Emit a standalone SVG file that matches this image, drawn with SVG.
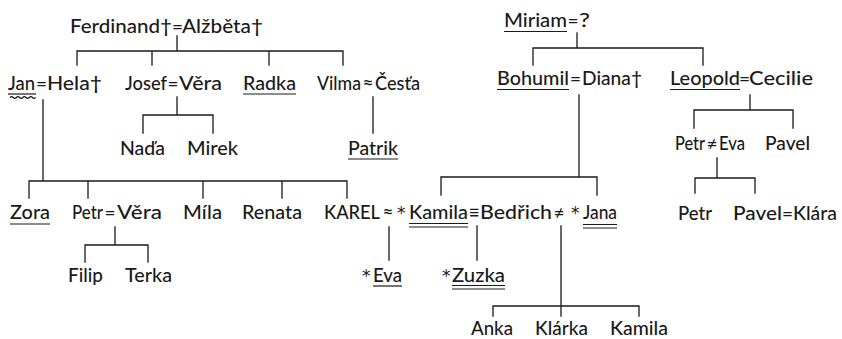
<svg xmlns="http://www.w3.org/2000/svg" width="842" height="339" viewBox="0 0 842 339">
  <style>
    .t { font-family: Lato, "Open Sans", "Liberation Sans", sans-serif; font-size: 20px; font-weight: 500; fill: #1a1a1a; }
    .o { font-family: Lato, "DejaVu Sans", sans-serif; font-size: 19px; font-weight: 500; fill: #1a1a1a; text-anchor: middle; }
    .s { font-family: "DejaVu Sans", sans-serif; font-size: 17px; fill: #1a1a1a; }
    .c { stroke: #1a1a1a; stroke-width: 1.3; fill: none; stroke-linecap: square; }
    .u { stroke: #1a1a1a; stroke-width: 1.2; fill: none; }
  </style>
  <rect width="842" height="339" fill="#ffffff"/>

  <!-- connectors -->
  <g id="connectors" class="c">
    <!-- Ferdinand = Alžběta -->
    <path d="M177 36V51M77 51H343M77 51V65M152 51V65M269 51V65M343 51V65"/>
    <!-- Jan = Hela -->
    <path d="M43 100V181M29 181H347M29 181V198M88 181V198M203 181V198M282 181V198M347 181V198"/>
    <!-- Josef = Věra -->
    <path d="M177 97V115M143 115H213M143 115V133M213 115V133"/>
    <!-- Vilma ≈ Česťa -->
    <path d="M373 97V133"/>
    <!-- Petr = Věra -->
    <path d="M115 227V245M85 245H148M85 245V262M148 245V262"/>
    <!-- KAREL ≈ Kamila -->
    <path d="M389 227V260"/>
    <!-- Miriam = ? -->
    <path d="M577 33V48M533 48H703M533 48V65M703 48V65"/>
    <!-- Bohumil = Diana -->
    <path d="M579 95V177M441 177H597M441 177V195M597 177V195"/>
    <!-- Leopold = Cecilie -->
    <path d="M750 95V110M694 110H793M694 110V128M793 110V128"/>
    <!-- Petr ≠ Eva -->
    <path d="M717 158V178M695 178H755M695 178V193M755 178V193"/>
    <!-- Kamila ≡ Bedřich -->
    <path d="M477 226V260"/>
    <!-- Bedřich ≠ Jana -->
    <path d="M561 226V316M493 306H639M493 306V316M639 306V316"/>
  </g>

  <!-- generation 1, left -->
  <g id="ferdinand-alzbeta">
    <text class="t" x="70" y="33" textLength="102" lengthAdjust="spacingAndGlyphs">Ferdinand†</text>
    <text class="o" x="177.5" y="33">=</text>
    <text class="t" x="182" y="33" textLength="81" lengthAdjust="spacingAndGlyphs">Alžběta†</text>
  </g>

  <!-- generation 2, left -->
  <g id="jan-hela">
    <text class="t" x="8" y="90" textLength="27" lengthAdjust="spacingAndGlyphs">Jan</text>
    <line class="u" x1="8" y1="94" x2="36" y2="94"/>
    <path class="u" d="M10 97.5q1.6 -1.8 3.2 0t3.2 0t3.2 0t3.2 0t3.2 0t3.2 0t3.2 0t3.2 0"/>
    <text class="o" x="41.5" y="90">=</text>
    <text class="t" x="47" y="90" textLength="55" lengthAdjust="spacingAndGlyphs">Hela†</text>
  </g>
  <g id="josef-vera">
    <text class="t" x="125" y="90" textLength="42" lengthAdjust="spacingAndGlyphs">Josef</text>
    <text class="o" x="173" y="90">=</text>
    <text class="t" x="179" y="90" textLength="43" lengthAdjust="spacingAndGlyphs">Věra</text>
  </g>
  <g id="radka">
    <text class="t" x="243" y="90" textLength="53" lengthAdjust="spacingAndGlyphs">Radka</text>
    <line class="u" x1="243" y1="94" x2="296" y2="94"/>
  </g>
  <g id="vilma-cestya">
    <text class="t" x="317" y="90" textLength="44" lengthAdjust="spacingAndGlyphs">Vilma</text>
    <text class="o" x="368" y="90">≈</text>
    <text class="t" x="375" y="90" textLength="45" lengthAdjust="spacingAndGlyphs">Česťa</text>
  </g>

  <!-- generation 3, left -->
  <g id="nada">
    <text class="t" x="120" y="155" textLength="45" lengthAdjust="spacingAndGlyphs">Naďa</text>
  </g>
  <g id="mirek">
    <text class="t" x="187" y="155" textLength="51" lengthAdjust="spacingAndGlyphs">Mirek</text>
  </g>
  <g id="patrik">
    <text class="t" x="348" y="155" textLength="50" lengthAdjust="spacingAndGlyphs">Patrik</text>
    <line class="u" x1="348" y1="159" x2="398" y2="159"/>
  </g>
  <g id="zora">
    <text class="t" x="10" y="219" textLength="40" lengthAdjust="spacingAndGlyphs">Zora</text>
    <line class="u" x1="10" y1="224" x2="50" y2="224"/>
  </g>
  <g id="petr-vera">
    <text class="t" x="72" y="219" textLength="31" lengthAdjust="spacingAndGlyphs">Petr</text>
    <text class="o" x="110" y="219">=</text>
    <text class="t" x="117" y="219" textLength="45" lengthAdjust="spacingAndGlyphs">Věra</text>
  </g>
  <g id="mila">
    <text class="t" x="183" y="219" textLength="39" lengthAdjust="spacingAndGlyphs">Míla</text>
  </g>
  <g id="renata">
    <text class="t" x="242" y="219" textLength="60" lengthAdjust="spacingAndGlyphs">Renata</text>
  </g>
  <g id="karel-kamila-bedrich-jana">
    <text class="t" x="324" y="219" textLength="56" lengthAdjust="spacingAndGlyphs">KAREL</text>
    <text class="o" x="388" y="219">≈</text>
    <text class="s" x="397" y="219">*</text>
    <text class="t" x="409" y="219" textLength="59" lengthAdjust="spacingAndGlyphs">Kamila</text>
    <line class="u" x1="409" y1="223.5" x2="468" y2="223.5"/>
    <line class="u" x1="409" y1="227" x2="468" y2="227"/>
    <text class="o" x="474" y="219">≡</text>
    <text class="t" x="480" y="219" textLength="72" lengthAdjust="spacingAndGlyphs">Bedřich</text>
    <text class="o" x="559" y="219">≠</text>
    <text class="s" x="571" y="219">*</text>
    <text class="t" x="583" y="219" textLength="34" lengthAdjust="spacingAndGlyphs">Jana</text>
    <line class="u" x1="583" y1="224.5" x2="617" y2="224.5"/>
    <line class="u" x1="583" y1="228" x2="617" y2="228"/>
  </g>

  <!-- generation 4, left -->
  <g id="filip">
    <text class="t" x="68" y="282" textLength="35" lengthAdjust="spacingAndGlyphs">Filip</text>
  </g>
  <g id="terka">
    <text class="t" x="125" y="282" textLength="47" lengthAdjust="spacingAndGlyphs">Terka</text>
  </g>
  <g id="eva">
    <text class="s" x="362" y="282">*</text>
    <text class="t" x="373" y="282" textLength="29" lengthAdjust="spacingAndGlyphs">Eva</text>
    <line class="u" x1="373" y1="286" x2="402" y2="286"/>
  </g>
  <g id="zuzka">
    <text class="s" x="442" y="282">*</text>
    <text class="t" x="452" y="282" textLength="53" lengthAdjust="spacingAndGlyphs">Zuzka</text>
    <line class="u" x1="452" y1="285.5" x2="505" y2="285.5"/>
    <line class="u" x1="452" y1="289" x2="505" y2="289"/>
  </g>
  <g id="anka">
    <text class="t" x="471" y="335" textLength="42" lengthAdjust="spacingAndGlyphs">Anka</text>
  </g>
  <g id="klarka">
    <text class="t" x="535" y="335" textLength="53" lengthAdjust="spacingAndGlyphs">Klárka</text>
  </g>
  <g id="kamila-jr">
    <text class="t" x="610" y="335" textLength="58" lengthAdjust="spacingAndGlyphs">Kamila</text>
  </g>

  <!-- right family -->
  <g id="miriam">
    <text class="t" x="504" y="27" textLength="63" lengthAdjust="spacingAndGlyphs">Miriam</text>
    <line class="u" x1="504" y1="31.5" x2="567" y2="31.5"/>
    <text class="o" x="573" y="27">=</text>
    <text class="t" x="579" y="27" textLength="11" lengthAdjust="spacingAndGlyphs">?</text>
  </g>
  <g id="bohumil-diana">
    <text class="t" x="497" y="85" textLength="72" lengthAdjust="spacingAndGlyphs">Bohumil</text>
    <line class="u" x1="497" y1="89.5" x2="569" y2="89.5"/>
    <text class="o" x="575.5" y="85">=</text>
    <text class="t" x="582" y="85" textLength="60" lengthAdjust="spacingAndGlyphs">Diana†</text>
  </g>
  <g id="leopold-cecilie">
    <text class="t" x="670" y="85" textLength="70" lengthAdjust="spacingAndGlyphs">Leopold</text>
    <line class="u" x1="670" y1="89.5" x2="740" y2="89.5"/>
    <text class="o" x="744.5" y="85">=</text>
    <text class="t" x="749" y="85" textLength="64" lengthAdjust="spacingAndGlyphs">Cecilie</text>
  </g>
  <g id="petr-eva">
    <text class="t" x="675" y="150" textLength="30" lengthAdjust="spacingAndGlyphs">Petr</text>
    <text class="o" x="712" y="150">≠</text>
    <text class="t" x="719" y="150" textLength="26" lengthAdjust="spacingAndGlyphs">Eva</text>
  </g>
  <g id="pavel">
    <text class="t" x="765" y="150" textLength="45" lengthAdjust="spacingAndGlyphs">Pavel</text>
  </g>
  <g id="petr-jr">
    <text class="t" x="678" y="220" textLength="34" lengthAdjust="spacingAndGlyphs">Petr</text>
  </g>
  <g id="pavel-klara">
    <text class="t" x="733" y="220" textLength="49" lengthAdjust="spacingAndGlyphs">Pavel</text>
    <text class="o" x="787.5" y="220">=</text>
    <text class="t" x="793" y="220" textLength="44" lengthAdjust="spacingAndGlyphs">Klára</text>
  </g>
</svg>
